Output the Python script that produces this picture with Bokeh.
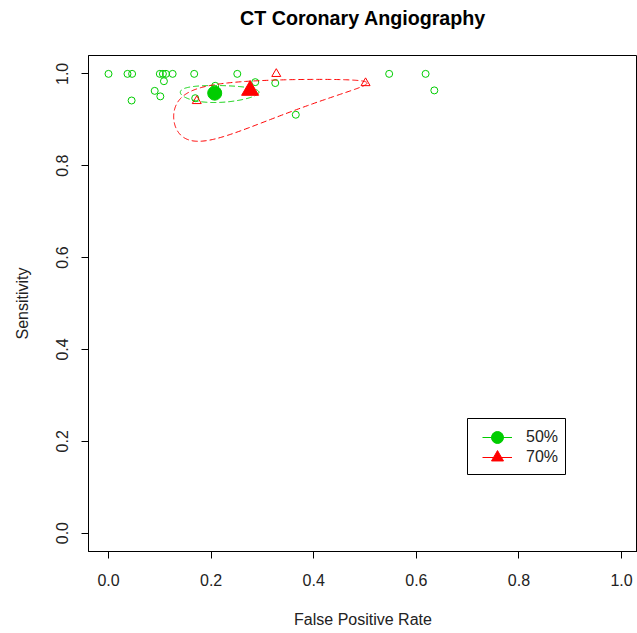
import numpy as np
from bokeh.plotting import figure
from bokeh.models import (Legend, LegendItem, FixedTicker, Range1d,
                          BoxAnnotation, Title)
from bokeh.embed import file_html
from bokeh.resources import INLINE

# Study-level estimates: false positive rate and sensitivity
fpr_50 = [0.000, 0.037, 0.046, 0.100, 0.106, 0.112, 0.125, 0.167, 0.251, 0.547,
          0.618, 0.108, 0.090, 0.101, 0.045, 0.208, 0.286, 0.325, 0.169, 0.365, 0.635]
sens_50 = [1.000, 1.000, 1.000, 1.000, 1.000, 1.000, 1.000, 1.000, 1.000, 1.000,
           1.000, 0.984, 0.963, 0.951, 0.942, 0.974, 0.982, 0.980, 0.947, 0.911, 0.964]

fpr_70 = [0.327, 0.501, 0.172]
sens_70 = [1.000, 0.980, 0.941]

# Summary (pooled) estimates per group
group_labels = ["50%", "70%"]
summary_fpr = [0.207, 0.276]
summary_sens = [0.958, 0.964]

# Confidence regions on the logit scale: centre, half-widths, correlation
region_50 = dict(cx=-1.348, cy=3.18, sx=0.468, sy=0.47, rho=0.0)
region_70 = dict(cx=-0.956, cy=3.085, sx=0.972, sy=1.325, rho=0.61)

x_ticks = [0.0, 0.2, 0.4, 0.6, 0.8, 1.0]
x_tick_labels = ["0.0", "0.2", "0.4", "0.6", "0.8", "1.0"]
y_ticks = [0.0, 0.2, 0.4, 0.6, 0.8, 1.0]
y_tick_labels = ["0.0", "0.2", "0.4", "0.6", "0.8", "1.0"]

TITLE = "CT Coronary Angiography"
GREEN = "#00CD00"
RED = "#FF0000"
FONT = "Liberation Sans"
TEXT = "#222222"


def expit(v):
    return 1.0 / (1.0 + np.exp(-v))


def region_curve(cx, cy, sx, sy, rho, n=360):
    t = np.linspace(0.0, 2.0 * np.pi, n)
    lx = cx + sx * np.cos(t)
    ly = cy + sy * np.cos(t + np.arccos(rho))
    return expit(lx), expit(ly)


p = figure(width=637, height=633,
           x_range=Range1d(-0.039, 1.031), y_range=Range1d(-0.04, 1.04),
           output_backend="svg", toolbar_location=None,
           min_border_left=88, min_border_right=0,
           min_border_top=55, min_border_bottom=82,
           background_fill_color="white", border_fill_color="white")

p.grid.visible = False
p.outline_line_color = "black"
p.outline_line_width = 1

# title sits in the top margin; a blank panel below it lifts it clear of the frame
p.title.text = ""
p.add_layout(Title(text=" ", text_font_size="1px", standoff=24), "above")
p.add_layout(Title(text=TITLE, align="center", standoff=0,
                   text_font=FONT, text_font_size="19.7px",
                   text_font_style="bold", text_color="black"), "above")

for ax, ticks, labels in ((p.xaxis[0], x_ticks, x_tick_labels),
                          (p.yaxis[0], y_ticks, y_tick_labels)):
    ax.ticker = FixedTicker(ticks=ticks)
    ax.major_label_overrides = dict(zip(ticks, labels))
    ax.major_tick_out = 7
    ax.major_tick_in = 0
    ax.minor_tick_out = 0
    ax.minor_tick_in = 0
    ax.major_tick_line_color = "black"
    ax.axis_line_color = "black"
    ax.major_label_text_font = FONT
    ax.major_label_text_font_size = "16px"
    ax.major_label_text_color = TEXT
    ax.axis_label_text_font = FONT
    ax.axis_label_text_font_size = "16px"
    ax.axis_label_text_font_style = "normal"
    ax.axis_label_text_color = TEXT

p.xaxis.axis_label = "False Positive Rate"
p.xaxis.major_label_standoff = 15
p.xaxis.axis_label_standoff = 22

p.yaxis.axis_label = "Sensitivity"
p.yaxis.major_label_orientation = "vertical"
p.yaxis.major_label_standoff = 13
p.yaxis.axis_label_standoff = 23

# individual studies
p.scatter(fpr_50, sens_50, marker="circle", size=7, fill_color=None,
          line_color=GREEN, line_width=1)
p.scatter(fpr_70, sens_70, marker="triangle", size=9, fill_color=None,
          line_color=RED, line_width=1)

# confidence regions
gx, gy = region_curve(**region_50)
p.line(gx, gy, line_color=GREEN, line_width=1, line_dash="6 3")
rx, ry = region_curve(**region_70)
p.line(rx, ry, line_color=RED, line_width=1, line_dash="6 3")

# summary points
s50 = p.scatter([summary_fpr[0]], [summary_sens[0]], marker="circle", size=14,
                fill_color=GREEN, line_color=GREEN)
s70 = p.scatter([summary_fpr[1]], [summary_sens[1]], marker="triangle", size=17,
                fill_color=RED, line_color=RED)

# line samples for the legend (nothing drawn in the plot area)
l50 = p.line(x=[np.nan], y=[np.nan], line_color=GREEN, line_width=1)
l70 = p.line(x=[np.nan], y=[np.nan], line_color=RED, line_width=1)

# legend frame
p.add_layout(BoxAnnotation(left=379, right=477, bottom=77, top=133,
                           left_units="screen", right_units="screen",
                           bottom_units="screen", top_units="screen",
                           fill_color="white", fill_alpha=1.0,
                           line_color="black", line_width=1, line_alpha=1.0))

# one legend row per group, stacked 20 px apart
for item_label, renderers, loc in ((group_labels[0], [l50, s50], (394, 98)),
                                   (group_labels[1], [l70, s70], (394, 78))):
    p.add_layout(Legend(items=[LegendItem(label=item_label, renderers=renderers)],
                        location=loc, glyph_width=30, glyph_height=32,
                        padding=0, spacing=0, label_standoff=14, margin=0,
                        label_text_font=FONT, label_text_font_size="16px",
                        label_text_color=TEXT,
                        border_line_color=None, background_fill_alpha=0.0))

open("out.html", "w").write(file_html(p, INLINE))
